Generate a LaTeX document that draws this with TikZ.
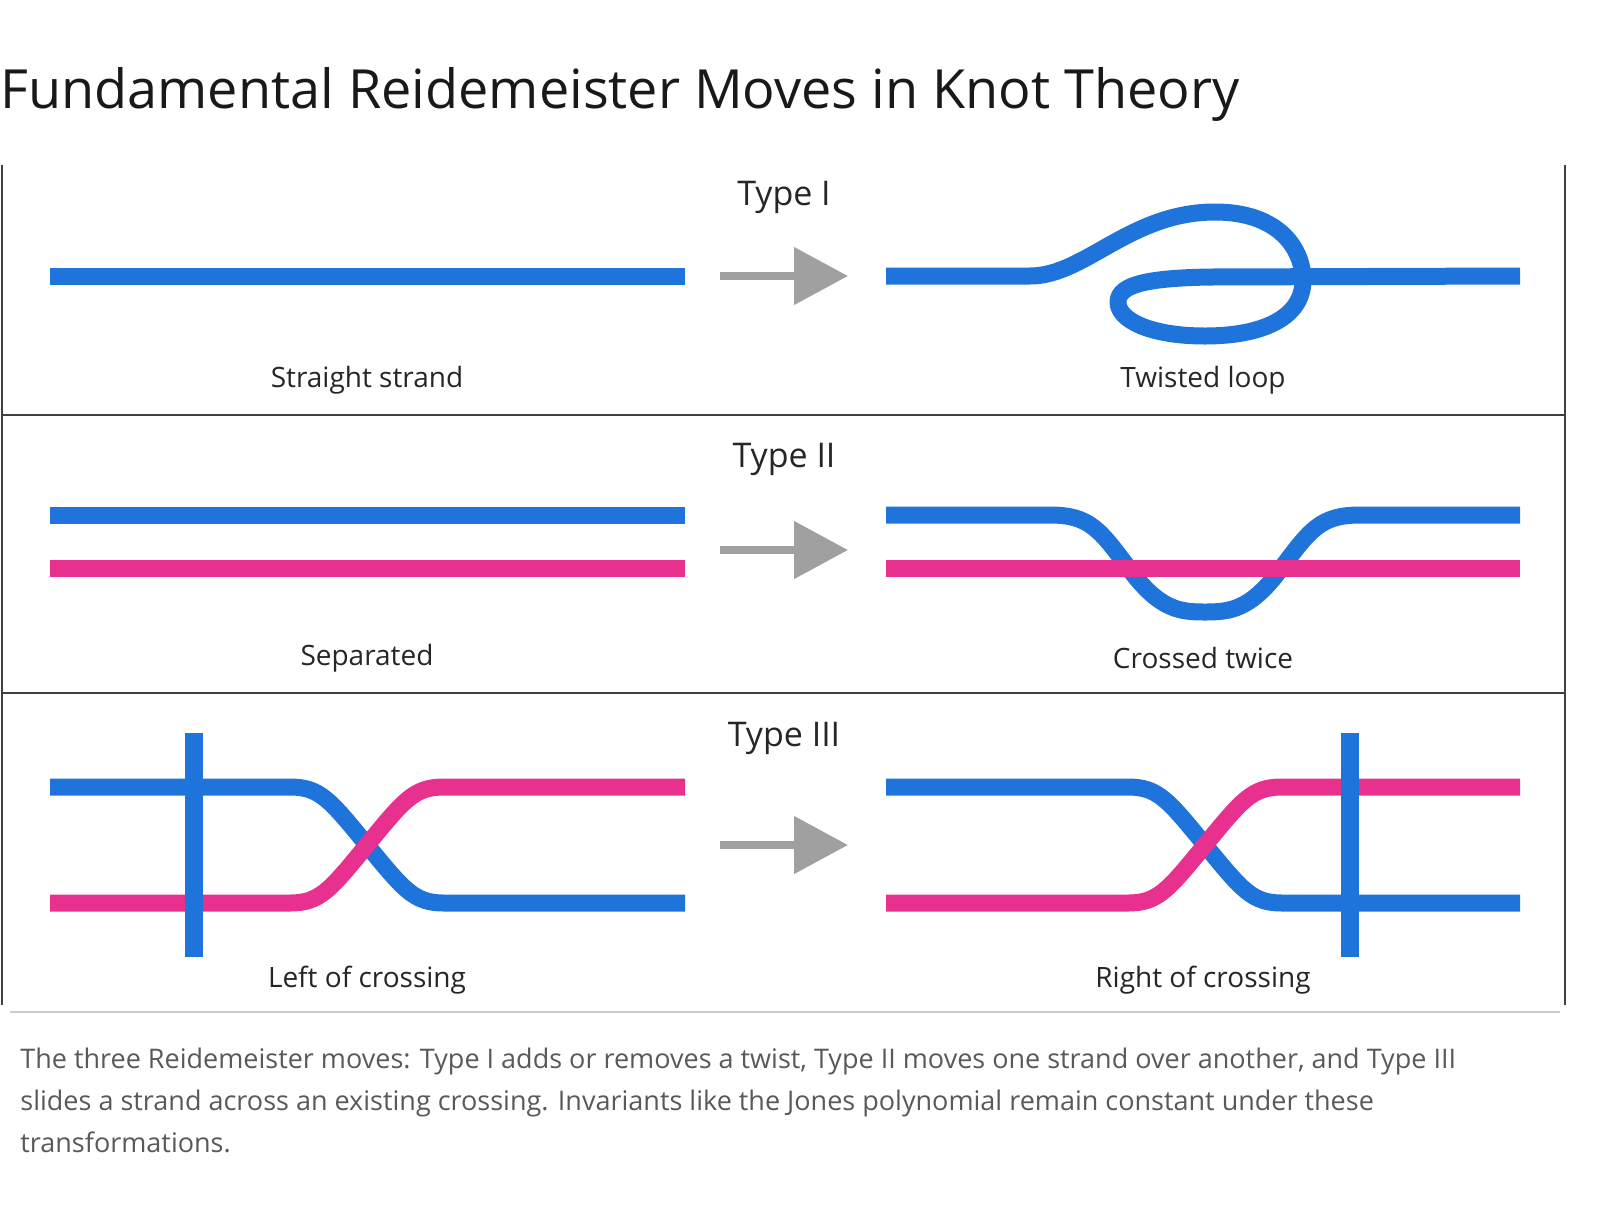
\documentclass[tikz,border=0pt]{standalone}
\usepackage{fontspec}
\setmainfont{Open Sans}
\usetikzlibrary{arrows.meta}
\definecolor{kblue}{HTML}{1F74DC}
\definecolor{kpink}{HTML}{E8308F}
\definecolor{agray}{HTML}{A0A0A0}
\begin{document}
\begin{tikzpicture}[x=0.5pt,y=-0.5pt,
  bl/.style={draw=kblue,line width=8.5pt},
  pk/.style={draw=kpink,line width=8.5pt},
  arr/.style={draw=agray,line width=4pt,-{Triangle[length=27pt,width=28pt]}},
  lab/.style={font=\fontsize{14}{16}\selectfont,text=black!85},
  typ/.style={font=\fontsize{17}{20}\selectfont,text=black!85},
  frame/.style={draw=black!75,line width=0.8pt}]
\useasboundingbox (0,0) rectangle (1600,1206);
\node[anchor=base west,inner sep=0,font=\fontsize{27}{30}\selectfont,text=black!90] (title) at (0,108) {Fundamental Reidemeister Moves in Knot Theory};
% frame
\draw[frame] (2,165) -- (2,1005);
\draw[frame] (1565,165) -- (1565,1005);
\draw[frame] (2,415) -- (1565,415);
\draw[frame] (2,693) -- (1565,693);
\draw[draw=black!20,line width=0.6pt] (10,1012) -- (1560,1012);
% Row 1
\node[typ] (t1) at (784,197) {Type I};
\draw[bl] (50,276) -- (685,276);
\coordinate (a1s) at (720,276); \coordinate (a1e) at (848,276);
\draw[arr] (a1s) -- (a1e);
\draw[bl,line join=round] (886,276) -- (1030,276) .. controls (1085,276) and (1130,212) .. (1215,212) .. controls (1280,212) and (1303,250) .. (1303,280) .. controls (1303,318) and (1262,336) .. (1205,336) .. controls (1150,336) and (1118,320) .. (1118,302) .. controls (1118,284) and (1150,278) .. (1210,277) -- (1520,276);
\node[lab] (l1a) at (367,380) {Straight strand};
\node[lab] (l1b) at (1203,380) {Twisted loop};
% Row 2
\node[typ] (t2) at (784,459) {Type II};
\draw[bl] (50,515) -- (685,515);
\draw[pk] (50,568) -- (685,568);
\coordinate (a2s) at (720,550); \coordinate (a2e) at (848,550);
\draw[arr] (a2s) -- (a2e);
\draw[bl] (886,515) -- (1050,515) .. controls (1090,515) and (1100,530) .. (1130,570) .. controls (1160,610) and (1180,612) .. (1205,612) .. controls (1230,612) and (1250,610) .. (1280,570) .. controls (1310,530) and (1320,515) .. (1360,515) -- (1520,515);
\draw[pk] (886,568) -- (1520,568);
\node[lab] (l2a) at (367,658) {Separated};
\node[lab] (l2b) at (1203,658) {Crossed twice};
% Row 3
\node[typ] (t3) at (784,738) {Type III};
\draw[bl] (50,787) -- (290,787) .. controls (320,787) and (330,800) .. (367,845) .. controls (404,890) and (414,903) .. (444,903) -- (685,903);
\draw[pk] (50,903) -- (290,903) .. controls (320,903) and (330,890) .. (367,845) .. controls (404,800) and (414,787) .. (444,787) -- (685,787);
\draw[draw=kblue,line width=9pt] (194,733) -- (194,957);
\coordinate (a3s) at (720,845); \coordinate (a3e) at (848,845);
\draw[arr] (a3s) -- (a3e);
\draw[bl] (886,787) -- (1128,787) .. controls (1158,787) and (1168,800) .. (1205,845) .. controls (1242,890) and (1252,903) .. (1282,903) -- (1520,903);
\draw[pk] (886,903) -- (1128,903) .. controls (1158,903) and (1168,890) .. (1205,845) .. controls (1242,800) and (1252,787) .. (1282,787) -- (1520,787);
\draw[draw=kblue,line width=9pt] (1350,733) -- (1350,957);
\node[lab] (l3a) at (367,980) {Left of crossing};
\node[lab] (l3b) at (1203,980) {Right of crossing};
% caption
\node[anchor=north west,inner sep=0,align=left,text=black!65,font=\fontsize{13.5}{21}\selectfont] (cap) at (20,1048) {The three Reidemeister moves: Type I adds or removes a twist, Type II moves one strand over another, and Type III\\slides a strand across an existing crossing. Invariants like the Jones polynomial remain constant under these\\transformations.};
\end{tikzpicture}
\end{document}
